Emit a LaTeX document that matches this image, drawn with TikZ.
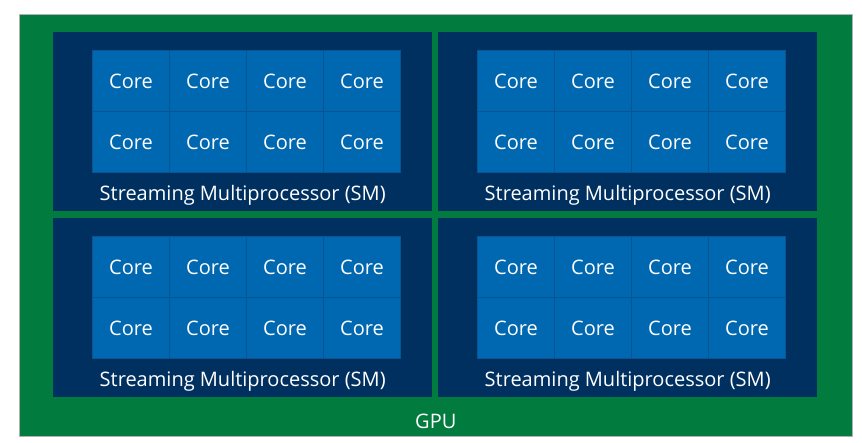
\documentclass[tikz,border=0pt]{standalone}
\usepackage{fontspec}
\setmainfont{Open Sans}
\definecolor{gpugreen}{HTML}{017C3E}
\definecolor{smnavy}{HTML}{00305F}
\definecolor{coreblue}{HTML}{0067B1}
\definecolor{coreline}{HTML}{0B5391}
\tikzset{
  gpubox/.style={fill=gpugreen, draw=gray!60, line width=0.6pt, anchor=north west, minimum width=833pt, minimum height=422pt, inner sep=0pt},
  smbox/.style={fill=smnavy, anchor=north west, minimum width=379pt, minimum height=179pt, inner sep=0pt},
  corebox/.style={fill=coreblue, draw=coreline, line width=1pt, anchor=north west, minimum width=77pt, minimum height=61pt, inner sep=0pt},
  boxtext/.style={text=white, font=\fontsize{20}{23}\selectfont, inner sep=0pt}
}
\begin{document}
\begin{tikzpicture}[x=1pt, y=-1pt]
    \useasboundingbox (0,0) rectangle (862,442);
    \node[gpubox] (gpu) at (19,14) {};
    \node[boxtext] (gpulabel) at ([yshift=15pt]gpu.south) {GPU};
    % four multiprocessors, each with a 4x2 grid of cores
    \foreach \s/\x/\y in {1/53/32, 2/438/32, 3/53/218, 4/438/218} {
        \node[smbox] (sm\s) at (\x,\y) {};
        \node[boxtext] (smlabel\s) at ([yshift=16pt]sm\s.south) {Streaming Multiprocessor (SM)};
        \foreach \r in {0,1} {
            \foreach \c in {0,...,3} {
                \node[corebox, boxtext] (core\s-\r-\c) at ([xshift={39+77*\c}, yshift={-18-61*\r}]sm\s.north west) {Core};
            }
        }
    }
\end{tikzpicture}
\end{document}
